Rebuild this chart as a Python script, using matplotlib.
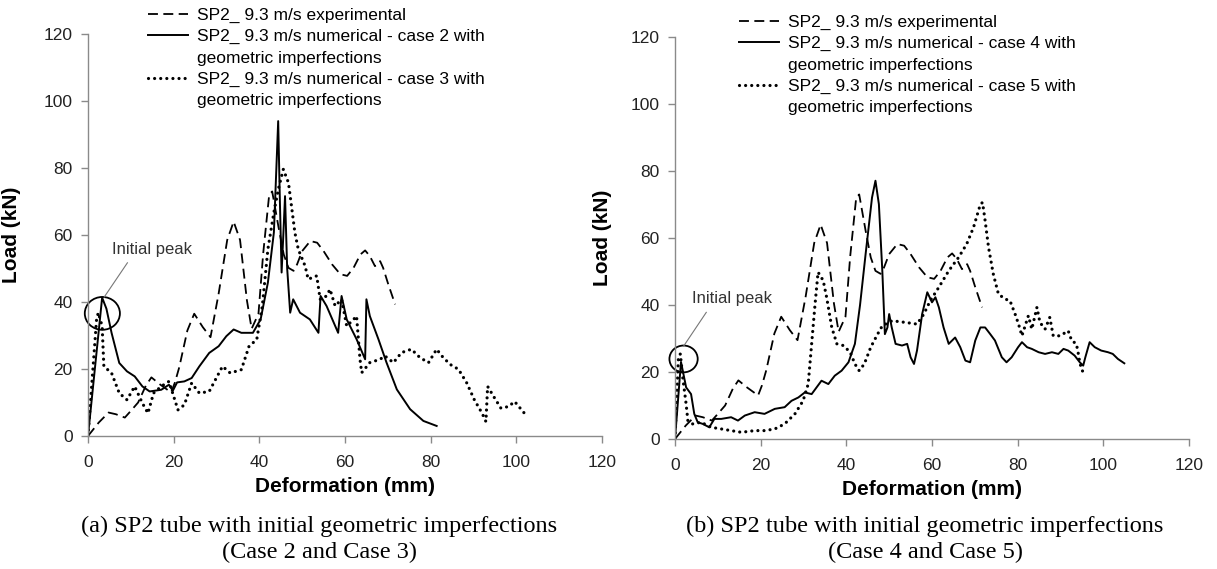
import matplotlib
matplotlib.use("agg")

import matplotlib.pyplot as plt
from matplotlib.lines import Line2D
from matplotlib.patches import Ellipse

plt.rcParams["font.family"] = ["Liberation Sans", "DejaVu Sans"]

# Experimental curve (same test shown in both panels)
exp_x = [0, 2.5, 4.8, 6.5, 8.6, 10, 11.7, 13.5, 14.8, 16.7, 19.4, 20.3, 21.3, 23.2,
         24.8, 26.8, 28.6, 30.5, 32.5, 34, 35.5, 37.1, 38.2, 39.8, 40.9, 42.3, 43,
         44.5, 45.7, 46.8, 48, 48.8, 50, 51.9, 53.5, 55, 57, 58.9, 60.5, 62, 63.6,
         64.7, 65.8, 67, 68.2, 68.9, 70.1, 71.7]
exp_y = [0, 4, 7, 6.5, 5.5, 7.5, 10, 15, 17.5, 15.5, 13, 16, 20.5, 31.5,
         36.5, 32.5, 29.5, 42.5, 58.5, 64, 58.5, 40.5, 32, 36.5, 54.5, 72, 73,
         62.2, 54.2, 50.2, 49.3, 51.2, 55.2, 58.2, 57.7, 55.2, 51.2, 48.3, 47.8, 50.2, 54.2,
         55.4, 53.7, 50.7, 52.2, 50.2, 45.3, 39.3]

# Case 2 (numerical)
c2_x = [0, 3.3, 4.3, 5.5, 7.3, 9.1, 10.9, 12.7, 14.4, 17.1, 18.9, 19.8, 20.8, 22.5,
        24.2, 26, 28.3, 30.5, 32.3, 34, 35.8, 38.5, 40.3, 42, 43.4, 44.4, 44.8, 45.2,
        45.6, 46, 46.5, 47.2, 47.9, 49.5, 51.8, 53.8, 54.3, 55.7, 58.4, 59.2, 60.4,
        62.7, 64.7, 65, 65.8, 67.8, 69.7, 72.1, 75.2, 78.3, 81.4]
c2_y = [0, 41.3, 38, 30.8, 21.8, 19.3, 17.8, 14.8, 13.3, 13.8, 15.3, 13.5, 16, 16.3,
        17.3, 20.8, 24.8, 26.8, 29.8, 31.8, 30.8, 30.8, 34.8, 45.8, 60.8, 94, 70, 48.8,
        60, 71.6, 50, 36.8, 40.8, 36.8, 34.8, 30.8, 41.8, 38.8, 30.8, 41.8, 34.8,
        28.9, 22.9, 40.8, 35.8, 28.9, 21.9, 13.9, 8, 4.5, 3]

# Case 3 (numerical)
c3_x = [0, 2, 2.4, 3.3, 3.7, 5.5, 7.3, 9.1, 10.9, 12.7, 14, 15.3, 17.1, 18.9, 21,
        22.5, 24.2, 26, 28.3, 31.4, 33.2, 35.8, 37.6, 39.4, 40.7, 42, 43.4, 44.5, 45.6,
        46.8, 47.5, 48.3, 49.1, 50.7, 51.4, 53.4, 54.2, 55.7, 56.5, 57.7, 59.2, 60.4,
        62, 62.7, 63.5, 63.9, 65.8, 68.2, 69.3, 71.3, 73.2, 75.5, 77.5, 79.5, 81.4,
        82.6, 84.5, 86.5, 88.4, 90.2, 92, 92.9, 93.3, 94.7, 96.4, 98.2, 99.6, 100.9, 102.2]
c3_y = [0, 34.8, 36.8, 32.8, 20.8, 18.8, 12.8, 10.8, 14.8, 9.8, 6.8, 12.8, 14.8, 16.3, 7.8,
        9.3, 15.8, 12.8, 13.3, 20.8, 18.8, 19.8, 26.8, 28.8, 38.8, 55.8, 66.8, 74, 79.6,
        75.6, 68.7, 60.7, 55.7, 50.7, 46.8, 47.8, 40.8, 41.8, 43.8, 38.8, 40.8, 32.8,
        34.8, 35.8, 22.9, 18.9, 21.9, 22.9, 23.9, 21.9, 24.9, 25.9, 23.4, 21.9, 25.9,
        23.9, 21.4, 19.9, 15.9, 10.8, 6.8, 4.3, 14.8, 11.8, 8.3, 8.8, 10.3, 8.3, 6.3]

# Case 4 (numerical)
c4_x = [0, 1.4, 2.6, 3.75, 4.5, 5.3, 6.5, 8, 9.2, 10.8, 13.1, 14.7, 16.3, 18.6, 20.9,
        23.3, 25.6, 27.2, 28.8, 30.3, 31.9, 34.2, 35.8, 37.3, 38.9, 40.5, 42, 43.2,
        44.5, 46, 46.8, 47.6, 48.4, 49, 49.6, 50, 50.6, 51.5, 53, 54.2, 55, 55.8, 56.5,
        57.7, 58.9, 60, 60.8, 61.6, 62.7, 63.9, 65.4, 66.6, 67.8, 68.9, 70.1, 71.3,
        72.4, 73.6, 74.7, 76.3, 77.4, 78.6, 80.1, 81, 82.2, 83.3, 84.9, 86.4, 88, 89.5,
        90.7, 91.8, 93.3, 94.5, 95.3, 95.8, 96.8, 98, 99.5, 101.1, 102.2, 103.4, 104.9]
c4_y = [0, 23, 15.4, 13.4, 7.5, 5, 4.5, 3.5, 6, 6, 6.5, 5.5, 7, 8, 7.5,
        9, 9.5, 11.4, 12.4, 13.9, 13.4, 17.4, 16.4, 18.9, 20.4, 22.9, 28.4, 40,
        55.2, 72.1, 77.1, 70.1, 50.2, 31.3, 33.3, 37.3, 33.3, 28.4, 27.9, 28.4, 24.4, 22.4, 26.4,
        37.3, 43.8, 40.8, 42.3, 39.3, 33.3, 28.4, 30.3, 27.4, 23.4, 22.9, 29.4, 33.3,
        33.3, 31.3, 29.4, 24.4, 22.9, 24.4, 27.4, 28.9, 27.4, 26.9, 25.9, 25.4, 25.9, 25.4,
        26.9, 26.4, 24.9, 22.9, 21.9, 24.4, 28.9, 27.4, 26.4, 25.9, 25.4, 23.9, 22.6]

# Case 5 (numerical)
c5_x = [0, 0.8, 1.25, 1.8, 2.6, 3, 4.1, 6.1, 8.4, 10.8, 13.1, 15.5, 18.6, 20.9, 23.3,
        25.6, 28, 29.9, 31.1, 31.9, 32.7, 33.4, 34.6, 35.4, 36.6, 37.8, 39.3, 40.9, 42,
        43, 44.2, 45.7, 47.3, 48.4, 50.7, 53.8, 56.5, 58.1, 59.6, 61.6, 63.9, 66.2,
        68.1, 69.7, 71.3, 71.8, 72.4, 73.2, 74.3, 75.5, 77, 78.2, 79.4, 80.2, 81, 82.5,
        83.3, 84.5, 85.2, 86.4, 87.5, 88.3, 89.9, 91.8, 92.6, 93.7, 94.1, 94.5, 94.9,
        95.3, 95.7]
c5_y = [0, 24.4, 25.4, 18.4, 10.4, 5.5, 4.5, 5, 3.5, 3, 2.5, 2, 2.5, 2.5, 3,
        4.5, 7.5, 11.4, 16.4, 28.4, 40.3, 49.8, 47.3, 42.3, 33.3, 28.4, 27.9, 25.9, 22.4,
        20.4, 22.4, 27.4, 31.3, 33.8, 35.3, 34.8, 34.3, 37.3, 41.3, 45.3, 50.2, 54.2,
        58.2, 63.2, 70.1, 70.6, 65.2, 57.2, 49.3, 43.3, 41.8, 41.3, 37.3, 34.3, 30.8, 36.8,
        32.8, 39.3, 34.8, 32.8, 36.3, 30.8, 30.8, 32.3, 29.4, 28.4, 25.9, 22.9, 20.9,
        19.9, 18.8]

ticks = [0, 20, 40, 60, 80, 100, 120]
lab_exp = "SP2_ 9.3 m/s experimental"
lab_num = "SP2_ 9.3 m/s numerical - case {} with"
lab_cont = "geometric imperfections"
captions = [("(a) SP2 tube with initial geometric imperfections", "(Case 2 and Case 3)"),
            ("(b) SP2 tube with initial geometric imperfections", "(Case 4 and Case 5)")]

fig = plt.figure(figsize=(12.17, 5.69), dpi=100)
W, H = 1217, 569
ax1 = fig.add_axes([88 / W, 1 - 436 / H, 514 / W, 402 / H])
ax2 = fig.add_axes([675 / W, 1 - 439 / H, 514 / W, 402 / H])

dash = dict(color="black", lw=1.3, dashes=(5.5, 3))
solid = dict(color="black", lw=1.4, linestyle="-")
dot = dict(color="black", lw=2.3, linestyle=(0, (0.01, 1.9)), dash_capstyle="round")

panels = [(ax1, c2_x, c2_y, c3_x, c3_y, 2, 3, -0.13),
          (ax2, c4_x, c4_y, c5_x, c5_y, 4, 5, -0.123)]
legend_parts = []
for ax, sx, sy, dx, dy, ca, cb, ylx in panels:
    l1, = ax.plot(exp_x, exp_y, **dash)
    l2, = ax.plot(sx, sy, **solid)
    l3, = ax.plot(dx, dy, **dot)
    ax.set_xlim(0, 120)
    ax.set_ylim(0, 120)
    ax.set_xticks(ticks)
    ax.set_yticks(ticks)
    for s in ["top", "right"]:
        ax.spines[s].set_visible(False)
    for s in ["left", "bottom"]:
        ax.spines[s].set_color("#8a8a8a")
        ax.spines[s].set_linewidth(1.0)
    ax.tick_params(direction="out", length=5, width=1, color="#8a8a8a",
                   labelsize=12.5, labelcolor="#222222")
    ax.tick_params(axis="x", pad=9)
    ax.tick_params(axis="y", pad=6)
    ax.set_xlabel("Deformation (mm)", fontsize=15, fontweight="bold", labelpad=5)
    ax.set_ylabel("Load (kN)", fontsize=15, fontweight="bold")
    ax.yaxis.set_label_coords(ylx, 0.5)
    blank = Line2D([], [], color="none")
    legend_parts.append(([l1, l2, blank, l3, blank],
                         [lab_exp, lab_num.format(ca), lab_cont, lab_num.format(cb), lab_cont]))

# Legends placed in figure coordinates, above the plot area
for (h, l), x0, y0 in zip(legend_parts, [148, 739], [8, 15]):
    fig.legend(h, l, loc="upper left", bbox_to_anchor=(x0 / W, 1 - y0 / H),
               frameon=False, fontsize=12.5, handlelength=2.3, handletextpad=0.55,
               labelspacing=0.34, borderpad=0, borderaxespad=0)

# "Initial peak" annotations
ann = [(ax1, (3.35, 36.6), 8.2, 9.8, (15, 55.8), (3.8, 41.5), (9.2, 51.7)),
       (ax2, (2.0, 23.9), 6.6, 8.0, (13.3, 41.8), (2.0, 27.7), (7.3, 37.8))]
for ax, c, w, h, tp, p0, p1 in ann:
    ax.add_patch(Ellipse(c, w, h, fill=False, edgecolor="black", lw=1.3, clip_on=False))
    ax.plot([p0[0], p1[0]], [p0[1], p1[1]], color="#777777", lw=0.8)
    ax.text(tp[0], tp[1], "Initial peak", fontsize=12, color="#333333",
            ha="center", va="center")

for cx, (t1, t2) in zip([319, 925], captions):
    fig.text(cx / W, 1 - 526 / H, t1, family="Liberation Serif", fontsize=17.5,
             ha="center", va="center")
    fig.text(cx / W, 1 - 552 / H, t2, family="Liberation Serif", fontsize=17.5,
             ha="center", va="center")

fig.savefig("out.png", dpi=100)
